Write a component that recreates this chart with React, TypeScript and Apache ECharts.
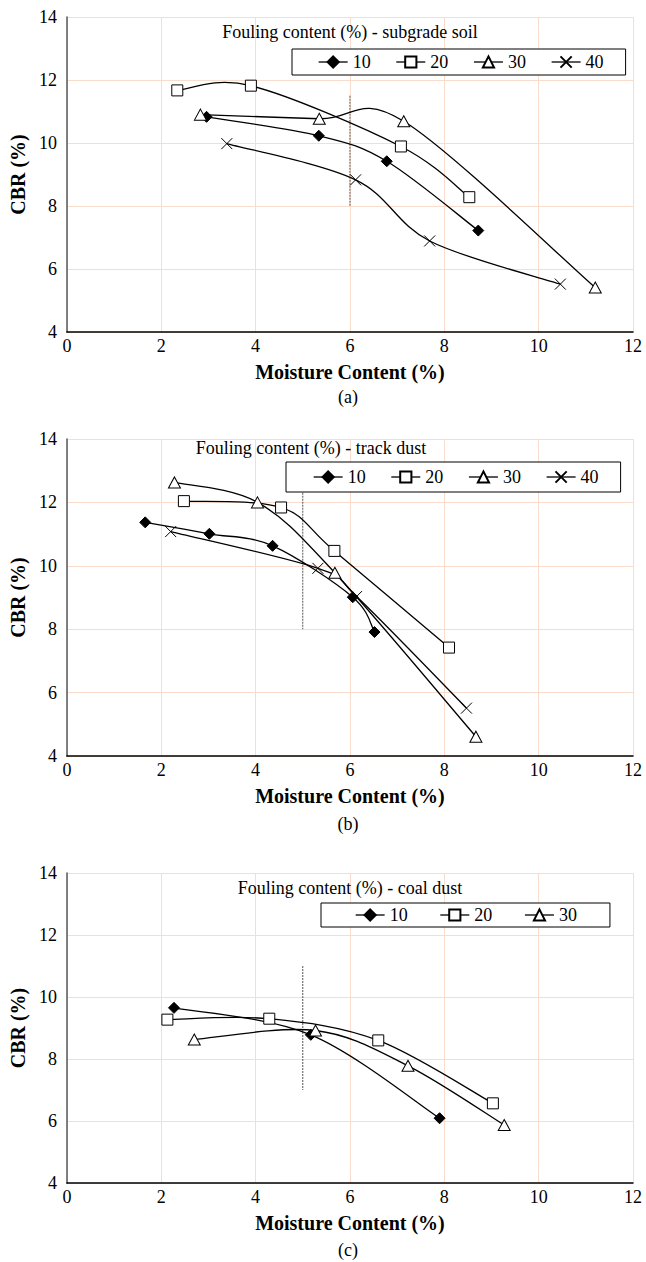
import React, { useEffect, useRef } from "react";
import * as echarts from "echarts";

// ---- axes ----
const X_MIN = 0;
const X_MAX = 12;
const X_STEP = 2;
const Y_MIN = 4;
const Y_MAX = 14;
const Y_STEP = 2;
const X_TITLE = "Moisture Content (%)";
const Y_TITLE = "CBR (%)";

// ---- legend / series names ----
const NAMES_4 = ["10", "20", "30", "40"];
const NAMES_3 = ["10", "20", "30"];

// ---- panel titles ----
const PANEL_TITLES = [
  "Fouling content (%) - subgrade soil",
  "Fouling content (%) - track dust",
  "Fouling content (%) - coal dust",
];
const PANEL_TAGS = ["(a)", "(b)", "(c)"];

// ---- panel (a): subgrade soil ----
const A_10 = [[2.96, 10.83], [5.34, 10.23], [6.78, 9.42], [8.72, 7.22]];
const A_20 = [[2.34, 11.67], [3.9, 11.82], [7.08, 9.89], [8.53, 8.28]];
const A_30 = [[2.83, 10.9], [5.35, 10.77], [7.14, 10.69], [11.2, 5.41]];
const A_40 = [[3.39, 9.98], [6.12, 8.83], [7.69, 6.89], [10.46, 5.52]];
const A_REF = [[6, 11.5], [6, 8]];

// ---- panel (b): track dust ----
const B_10 = [[1.66, 11.37], [3.02, 11.01], [4.36, 10.63], [6.06, 9.01], [6.52, 7.91]];
const B_20 = [[2.48, 12.04], [4.54, 11.84], [5.67, 10.47], [8.1, 7.42]];
const B_30 = [[2.28, 12.63], [4.04, 12.0], [5.68, 9.78], [8.67, 4.61]];
const B_40 = [[2.2, 11.08], [5.32, 9.92], [6.14, 9.03], [8.47, 5.51]];
const B_REF = [[5, 12.4], [5, 8]];

// ---- panel (c): coal dust ----
const C_10 = [[2.27, 9.65], [5.17, 8.78], [7.9, 6.09]];
const C_20 = [[2.13, 9.27], [4.29, 9.3], [6.6, 8.6], [9.03, 6.57]];
const C_30 = [[2.7, 8.63], [5.27, 8.92], [7.23, 7.78], [9.27, 5.87]];
const C_REF = [[5, 11], [5, 7]];

const FONT = "Liberation Serif";

const GRIDS = [
  { left: 63, top: 17, width: 570, height: 315 },
  { left: 63, top: 439, width: 570, height: 317 },
  { left: 63, top: 873, width: 570, height: 310 },
];

const SYMBOLS: Record<string, any> = {
  "10": { symbol: "diamond", symbolSize: 11, itemStyle: { color: "#000", borderColor: "#000", borderWidth: 1 } },
  "20": { symbol: "rect", symbolSize: 11, itemStyle: { color: "#fff", borderColor: "#000", borderWidth: 1 } },
  "30": { symbol: "triangle", symbolSize: [12, 11], itemStyle: { color: "#fff", borderColor: "#000", borderWidth: 1 } },
  "40": { symbol: "path://M0,0L10,10M10,0L0,10", symbolSize: 11, itemStyle: { color: "none", borderColor: "#000", borderWidth: 1 } },
};

// Markers (and legend entry): line series with invisible line
function mkMarkers(name: string, data: number[][], gi: number) {
  const s = SYMBOLS[name];
  return {
    type: "line",
    name,
    data,
    xAxisIndex: gi,
    yAxisIndex: gi,
    symbol: s.symbol,
    symbolSize: s.symbolSize,
    itemStyle: s.itemStyle,
    lineStyle: { color: "#000", width: 1.3, opacity: 0 },
    z: 4,
  };
}

// Smooth curve (Excel-style Catmull-Rom Bezier) through the data, via custom series
function mkCurve(name: string, data: number[][], gi: number) {
  return {
    type: "custom",
    name: "curve-" + gi + "-" + name,
    coordinateSystem: "cartesian2d",
    xAxisIndex: gi,
    yAxisIndex: gi,
    data,
    encode: { x: 0, y: 1 },
    silent: true,
    z: 3,
    renderItem: (params: any, api: any) => {
      if (params.dataIndex !== 0) return null;
      const pts = data.map((p) => api.coord(p));
      const n = pts.length;
      let d = `M${pts[0][0]},${pts[0][1]}`;
      for (let i = 0; i < n - 1; i++) {
        const p0 = pts[Math.max(i - 1, 0)];
        const p1 = pts[i];
        const p2 = pts[i + 1];
        const p3 = pts[Math.min(i + 2, n - 1)];
        const c1x = p1[0] + (p2[0] - p0[0]) / 6;
        const c1y = p1[1] + (p2[1] - p0[1]) / 6;
        const c2x = p2[0] - (p3[0] - p1[0]) / 6;
        const c2y = p2[1] - (p3[1] - p1[1]) / 6;
        d += ` C${c1x},${c1y} ${c2x},${c2y} ${p2[0]},${p2[1]}`;
      }
      return {
        type: "path",
        shape: { pathData: d },
        style: { stroke: "#000", fill: "none", lineWidth: 1.3 },
      };
    },
  };
}

function mkPair(name: string, data: number[][], gi: number) {
  return [mkCurve(name, data, gi), mkMarkers(name, data, gi)];
}

function mkRef(data: number[][], gi: number) {
  return {
    type: "line",
    name: "ref" + gi,
    data,
    xAxisIndex: gi,
    yAxisIndex: gi,
    symbol: "none",
    silent: true,
    lineStyle: { color: "#555", width: 1, type: [2, 1] },
    z: 2,
  };
}

export default function App() {
  const ref = useRef<HTMLDivElement>(null);
  useEffect(() => {
    document.body.style.margin = "0";
    const chart = echarts.init(ref.current!, null, { renderer: "svg" });

    const xAxis = GRIDS.map((_, i) => ({
      type: "value",
      gridIndex: i,
      min: X_MIN,
      max: X_MAX,
      interval: X_STEP,
      axisLine: { onZero: false, lineStyle: { color: "#000", width: 1.5 } },
      axisTick: { show: false },
      axisLabel: { fontSize: 18, color: "#000", fontFamily: FONT, margin: 5 },
      splitLine: { show: true, lineStyle: { color: "#f9dccb", width: 1 } },
      name: X_TITLE,
      nameLocation: "middle",
      nameGap: 30,
      nameTextStyle: { fontSize: 20, fontWeight: "bold", color: "#000", fontFamily: FONT },
    }));
    const yAxis = GRIDS.map((_, i) => ({
      type: "value",
      gridIndex: i,
      min: Y_MIN,
      max: Y_MAX,
      interval: Y_STEP,
      axisLine: { show: true, onZero: false, lineStyle: { color: "#595959", width: 1.5 } },
      axisTick: { show: false },
      axisLabel: { fontSize: 18, color: "#000", fontFamily: FONT, margin: 10 },
      splitLine: { show: true, lineStyle: { color: "#f9dccb", width: 1 } },
      name: Y_TITLE,
      nameLocation: "middle",
      nameGap: 36,
      nameRotate: 90,
      nameTextStyle: { fontSize: 20, fontWeight: "bold", color: "#000", fontFamily: FONT },
    }));

    const series: any[] = [
      mkRef(A_REF, 0),
      ...mkPair("10", A_10, 0),
      ...mkPair("20", A_20, 0),
      ...mkPair("30", A_30, 0),
      ...mkPair("40", A_40, 0),
      mkRef(B_REF, 1),
      ...mkPair("10", B_10, 1),
      ...mkPair("20", B_20, 1),
      ...mkPair("30", B_30, 1),
      ...mkPair("40", B_40, 1),
      mkRef(C_REF, 2),
      ...mkPair("10", C_10, 2),
      ...mkPair("20", C_20, 2),
      ...mkPair("30", C_30, 2),
    ];

    const legendBase = {
      orient: "horizontal",
      backgroundColor: "#fff",
      borderColor: "#000",
      borderWidth: 1,
      itemWidth: 29,
      itemHeight: 14,
      textStyle: { fontSize: 18, color: "#000", fontFamily: FONT },
      lineStyle: { color: "#000", width: 1.3, opacity: 1 },
      selectedMode: false,
      z: 10,
    };
    const legend = [
      { ...legendBase, data: NAMES_4, left: 292, top: 49, padding: [4, 22, 4, 26], itemGap: 25 },
      { ...legendBase, data: NAMES_4, left: 286, top: 462, padding: [6, 22, 6, 27], itemGap: 25 },
      { ...legendBase, data: NAMES_3, left: 321, top: 903, padding: [3, 33, 3, 34], itemGap: 32 },
    ];

    const titlePos = [
      [350, 32],
      [311, 448],
      [350, 888],
    ];
    const tagY = [397, 824, 1250];
    const graphic: any[] = [];
    PANEL_TITLES.forEach((t, i) => {
      graphic.push({
        type: "text",
        x: titlePos[i][0],
        y: titlePos[i][1],
        z: 20,
        style: { text: t, fontSize: 18, fontFamily: FONT, fill: "#000", align: "center", verticalAlign: "middle" },
      });
      graphic.push({
        type: "text",
        x: 348,
        y: tagY[i],
        style: { text: PANEL_TAGS[i], fontSize: 18, fontFamily: FONT, fill: "#000", align: "center", verticalAlign: "middle" },
      });
    });

    chart.setOption({
      animation: false,
      backgroundColor: "#fff",
      grid: GRIDS,
      xAxis,
      yAxis,
      legend,
      series,
      graphic,
    });
    return () => chart.dispose();
  }, []);
  return <div ref={ref} style={{ width: 646, height: 1262 }} />;
}
